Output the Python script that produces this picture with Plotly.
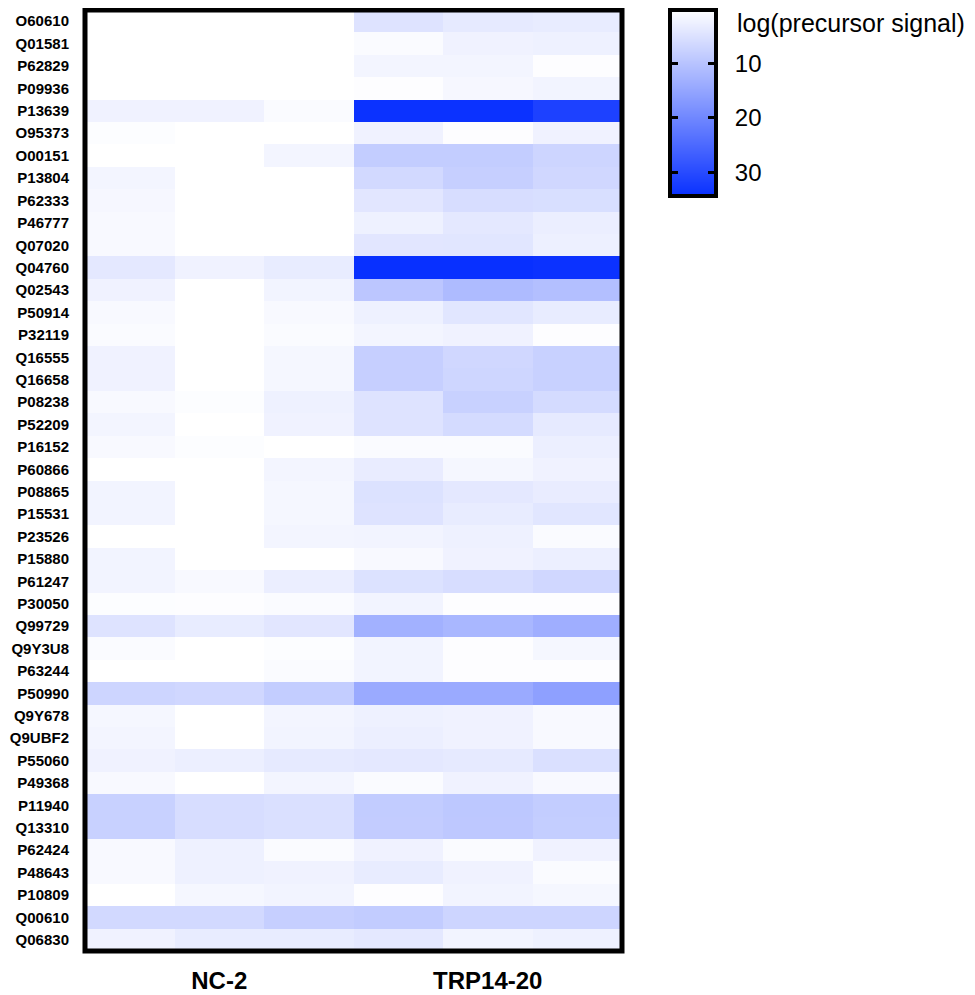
import plotly.graph_objects as go

# ---------------- data ----------------
proteins = ["O60610", "Q01581", "P62829", "P09936", "P13639", "O95373", "O00151",
            "P13804", "P62333", "P46777", "Q07020", "Q04760", "Q02543", "P50914",
            "P32119", "Q16555", "Q16658", "P08238", "P52209", "P16152", "P60866",
            "P08865", "P15531", "P23526", "P15880", "P61247", "P30050", "Q99729",
            "Q9Y3U8", "P63244", "P50990", "Q9Y678", "Q9UBF2", "P55060", "P49368",
            "P11940", "Q13310", "P62424", "P48643", "P10809", "Q00610", "Q06830"]

groups = ["NC-2", "TRP14-20"]

nc2_rep1 = [0.0, 0.0, 0.0, 0.0, 2.1, 0.4, 0.0, 1.7, 1.3, 1.0, 1.0, 3.8, 2.1, 1.0,
            0.7, 2.1, 2.1, 1.0, 1.7, 1.0, 0.0, 1.8, 1.8, 0.0, 1.8, 1.8, 0.4, 4.6,
            0.7, 0.0, 7.0, 1.4, 1.7, 2.1, 1.0, 7.7, 7.6, 1.0, 1.0, 0.0, 6.3, 2.1]
nc2_rep2 = [0.0, 0.0, 0.0, 0.0, 2.1, 0.0, 0.0, 0.0, 0.0, 0.0, 0.0, 2.1, 0.0, 0.0,
            0.0, 0.0, 0.0, 0.4, 0.0, 0.4, 0.0, 0.0, 0.0, 0.0, 0.0, 1.0, 0.3, 3.2,
            0.0, 0.0, 6.6, 0.0, 0.0, 2.7, 0.0, 5.6, 5.6, 2.4, 2.4, 1.4, 6.3, 3.2]
nc2_rep3 = [0.0, 0.0, 0.0, 0.0, 0.7, 0.0, 1.7, 0.0, 0.0, 0.0, 0.0, 3.2, 1.8, 1.0,
            0.7, 1.4, 1.4, 2.4, 2.1, 0.0, 1.7, 1.4, 1.4, 1.7, 0.0, 2.8, 0.7, 4.1,
            0.4, 0.7, 8.3, 1.7, 1.8, 3.5, 1.7, 5.2, 5.2, 0.7, 2.1, 1.8, 8.0, 3.2]
trp_rep1 = [4.6, 0.7, 1.7, 0.3, 34.0, 2.1, 8.3, 6.3, 4.1, 2.4, 4.1, 34.4, 9.4, 2.4,
            1.7, 8.0, 7.9, 4.6, 4.6, 0.7, 3.1, 4.9, 4.6, 1.8, 1.0, 4.9, 1.8, 13.0,
            1.8, 1.8, 14.1, 2.4, 2.7, 3.8, 0.7, 8.5, 8.4, 2.1, 3.2, 0.3, 8.5, 3.8]
trp_rep2 = [3.5, 2.1, 1.7, 1.3, 34.0, 0.3, 8.3, 8.0, 5.6, 3.8, 4.2, 34.4, 11.3, 4.2,
            2.1, 6.6, 6.8, 7.7, 6.0, 0.7, 1.4, 3.8, 3.2, 2.4, 2.1, 5.6, 0.3, 12.0,
            0.3, 0.3, 14.1, 2.1, 2.1, 3.5, 2.1, 9.2, 9.1, 0.7, 2.1, 1.8, 7.0, 1.8]
trp_rep3 = [3.2, 2.4, 0.3, 1.8, 31.5, 2.1, 7.0, 6.6, 5.4, 2.8, 2.5, 34.0, 10.6, 3.2,
            0.3, 7.7, 7.6, 6.0, 3.5, 2.7, 2.1, 3.1, 4.2, 0.7, 2.7, 6.6, 0.3, 13.4,
            1.4, 0.3, 15.8, 1.0, 1.0, 5.2, 1.0, 8.3, 8.2, 2.1, 0.7, 1.4, 7.0, 2.4]

replicates = [nc2_rep1, nc2_rep2, nc2_rep3, trp_rep1, trp_rep2, trp_rep3]
columns = list(range(len(replicates)))
group_centers = [1, 4]

colorbar_ticks = [10, 20, 30]
colorbar_title = "log(precursor signal)"
ZMIN, ZMAX = 0.0, 34.4

# ---------------- styling ----------------
PAGE_OFFSET = 8  # browser body margin
W, H = 975 - PAGE_OFFSET, 995 - PAGE_OFFSET
ML, MR, MT, MB = 77, 10, 2, 44
PW, PH = W - ML - MR, H - MT - MB
FONT = "Liberation Sans, Arial, Helvetica, sans-serif"
scale = [[0.0, "rgb(255,255,255)"], [1.0, "rgb(8,48,255)"]]

def px_x(x):  # screen pixel -> paper fraction
    return (x - PAGE_OFFSET - ML) / PW

def px_y(y):
    return (H + PAGE_OFFSET - MB - y) / PH

z = [list(row) for row in zip(*replicates)]

fig = go.Figure()
fig.add_trace(go.Heatmap(
    z=z, x=columns, y=proteins,
    colorscale=scale, zmin=ZMIN, zmax=ZMAX,
    showscale=False, xgap=0, ygap=0,
    hovertemplate="%{y}: %{z}<extra></extra>",
))

# colour legend drawn as its own small axis so the scale runs top->bottom
fig.add_trace(go.Heatmap(
    z=[[ZMIN, ZMIN], [ZMAX, ZMAX]], x=[0, 1], y=[ZMIN, ZMAX],
    colorscale=scale, zmin=ZMIN, zmax=ZMAX, zsmooth="best",
    showscale=False, xaxis="x2", yaxis="y2", hoverinfo="skip",
))

fig.update_layout(
    width=W, height=H,
    margin=dict(l=ML, r=MR, t=MT, b=MB, autoexpand=False),
    paper_bgcolor="white", plot_bgcolor="white",
    font=dict(family=FONT, color="black"),
    xaxis=dict(
        domain=[px_x(85), px_x(622)], range=[-0.5, len(columns) - 0.5],
        tickvals=group_centers, ticktext=groups,
        tickfont=dict(size=24, weight="bold"),
        ticks="", showgrid=False, zeroline=False, showline=False,
        ticklabelstandoff=13, fixedrange=True, automargin=False,
    ),
    yaxis=dict(
        domain=[0, 1], autorange="reversed", type="category",
        tickfont=dict(size=15, weight="bold"),
        ticks="", showgrid=False, zeroline=False, showline=False,
        ticklabelstandoff=15, fixedrange=True, automargin=False,
    ),
    xaxis2=dict(
        domain=[px_x(672), px_x(714)], anchor="y2", range=[0, 1],
        showticklabels=False, ticks="", showgrid=False, zeroline=False,
        showline=True, linewidth=4, linecolor="black", mirror=True,
        automargin=False,
    ),
    yaxis2=dict(
        domain=[px_y(194), px_y(12)], anchor="x2", side="right",
        range=[34.0, 0.6],
        tickvals=colorbar_ticks, ticks="inside", ticklen=6, tickwidth=3,
        tickcolor="black", tickfont=dict(size=24),
        showgrid=False, zeroline=False,
        showline=True, linewidth=4, linecolor="black", mirror="ticks",
        ticklabelstandoff=12, automargin=False,
    ),
    shapes=[dict(
        type="rect", xref="x domain", yref="y domain",
        x0=0, x1=1, y0=0, y1=1,
        line=dict(color="black", width=5), fillcolor="rgba(0,0,0,0)",
    )],
    annotations=[dict(
        text=colorbar_title, xref="paper", yref="paper",
        x=px_x(735), y=px_y(23), xanchor="left", yanchor="middle",
        showarrow=False, font=dict(size=25, family=FONT),
    )],
)

fig.write_html("out.html")
